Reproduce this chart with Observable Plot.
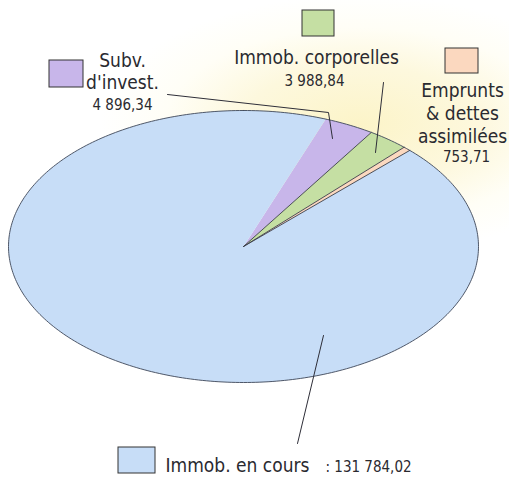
<!DOCTYPE html>
<html><head><meta charset="utf-8">
<script src="https://cdn.jsdelivr.net/npm/d3@7"></script>
<script src="https://cdn.jsdelivr.net/npm/@observablehq/plot@0.6"></script>
<style>
html,body{margin:0;padding:0;background:#fff;}
</style>
</head><body>
<div id="chart"></div>
<script>
const categories = ["Subv. d'invest.", "Immob. corporelles", "Emprunts & dettes assimilées", "Immob. en cours"];
const values = [4896.34, 3988.84, 753.71, 131784.02];
const valueLabels = ["4 896,34", "3 988,84", "753,71", "131 784,02"];
const colors = ["#c8b6ea", "#c5dfa3", "#fbd8bf", "#c7ddf7"];

const W = 509, H = 481;
const cx = 243, cy = 246, rx = 235, ry = 136;
const startDeg = 20.5;
const font = "'Liberation Sans Narrow', 'DejaVu Sans Condensed', 'Roboto Condensed', sans-serif";

const arcs = d3.pie().sort(null)
  .startAngle(startDeg * Math.PI / 180)
  .endAngle(startDeg * Math.PI / 180 + 2 * Math.PI)(values);

const slicePts = [];
arcs.forEach((a, i) => {
  const name = categories[i];
  slicePts.push({name, x: 0, y: 0});
  const n = Math.max(4, Math.ceil((a.endAngle - a.startAngle) / (Math.PI / 180)));
  for (let k = 0; k <= n; k++) {
    const t = a.startAngle + (a.endAngle - a.startAngle) * k / n;
    slicePts.push({name, x: Math.sin(t), y: Math.cos(t)});
  }
  slicePts.push({name, x: 0, y: 0});
});
const outline = d3.range(0, 361).map(d => ({x: Math.sin(d * Math.PI / 180), y: Math.cos(d * Math.PI / 180)}));
const separators = [];
arcs.slice(0, 3).forEach((a, i) => {
  separators.push({k: i, x: 0, y: 0}, {k: i, x: Math.sin(a.endAngle), y: Math.cos(a.endAngle)});
});

// pixel -> data helpers for annotation layout
const X = px => (px - cx) / rx;
const Y = py => (cy - py) / ry;

const swatches = [
  {i: 0, x1: 49, x2: 83, y1: 60, y2: 87},
  {i: 1, x1: 302, x2: 334, y1: 10, y2: 36},
  {i: 2, x1: 445, x2: 478, y1: 48, y2: 73},
  {i: 3, x1: 118, x2: 155, y1: 447, y2: 473}
].map(d => ({name: categories[d.i], x1: X(d.x1), x2: X(d.x2), y1: Y(d.y1), y2: Y(d.y2)}));

const leaders = [
  {k: 0, pts: [[167, 94], [328, 112], [332, 138]]},
  {k: 1, pts: [[383, 82], [375, 152]]},
  {k: 3, pts: [[323, 335], [297, 443]]}
].flatMap(d => d.pts.map(p => ({k: d.k, x: X(p[0]), y: Y(p[1])})));

const bigText = [
  {t: "Subv.", x: 122, y: 66},
  {t: "d'invest.", x: 122, y: 88},
  {t: "Immob. corporelles", x: 316, y: 63},
  {t: "Emprunts", x: 462, y: 96},
  {t: "& dettes", x: 462, y: 119},
  {t: "assimilées", x: 462, y: 142}
].map(d => ({...d, x: X(d.x), y: Y(d.y)}));
const numText = [
  {t: valueLabels[0], x: 122, y: 109},
  {t: valueLabels[1], x: 314, y: 85},
  {t: valueLabels[2], x: 466, y: 161}
].map(d => ({...d, x: X(d.x), y: Y(d.y)}));

const chart = Plot.plot({
  width: W, height: H,
  margin: 0,
  x: {domain: [-1, 1], range: [cx - rx, cx + rx], axis: null},
  y: {domain: [-1, 1], range: [cy + ry, cy - ry], axis: null},
  color: {domain: categories, range: colors},
  style: {
    fontFamily: font,
    background: "radial-gradient(ellipse 260px 130px at 360px 125px, #fcf4c8 0%, #fdf8dd 45%, #fffef6 75%, #ffffff 100%)"
  },
  marks: [
    Plot.line(slicePts, {x: "x", y: "y", z: "name", fill: "name", stroke: null, curve: "linear"}),
    Plot.line(separators, {x: "x", y: "y", z: "k", stroke: "#3a3d4a", strokeWidth: 0.9}),
    Plot.line(outline, {x: "x", y: "y", stroke: "#3d4658", strokeWidth: 0.9}),
    Plot.line(leaders, {x: "x", y: "y", z: "k", stroke: "#2e2e38", strokeWidth: 1}),
    Plot.rect(swatches, {x1: "x1", x2: "x2", y1: "y1", y2: "y2", fill: "name", stroke: "#333", strokeWidth: 1}),
    Plot.text(bigText, {x: "x", y: "y", text: "t", fontSize: 19, fill: "#2a2a30", lineAnchor: "bottom", textAnchor: "middle"}),
    Plot.text(numText, {x: "x", y: "y", text: "t", fontSize: 15, fill: "#2a2a30", lineAnchor: "bottom", textAnchor: "middle"}),
    Plot.text([{t: "Immob. en cours", x: X(165), y: Y(471)}], {x: "x", y: "y", text: "t", fontSize: 19, fill: "#2a2a30", lineAnchor: "bottom", textAnchor: "start"}),
    Plot.text([{t: ": " + valueLabels[3], x: X(325), y: Y(471)}], {x: "x", y: "y", text: "t", fontSize: 15, fill: "#2a2a30", lineAnchor: "bottom", textAnchor: "start"})
  ]
});
document.getElementById("chart").appendChild(chart);
</script>
</body></html>
